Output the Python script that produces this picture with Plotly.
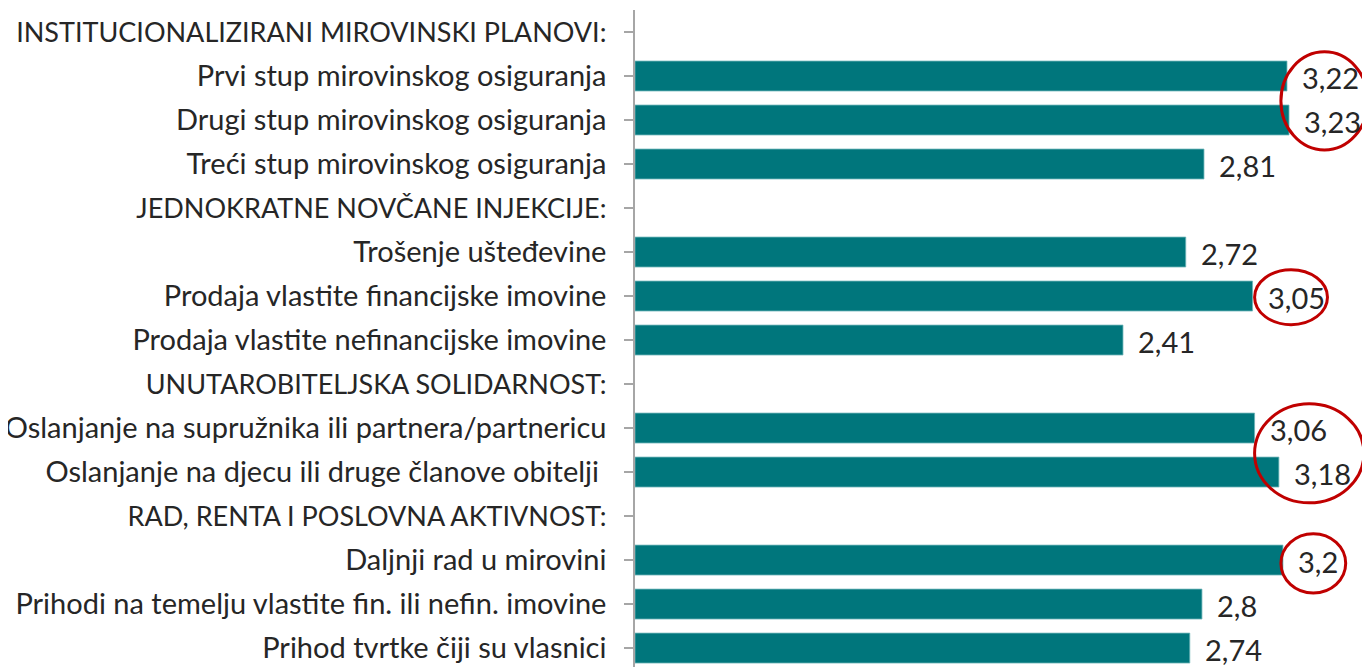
import plotly.graph_objects as go

# categories, top to bottom (group headers have no value)
categories = [
    "INSTITUCIONALIZIRANI MIROVINSKI PLANOVI:",
    "Prvi stup mirovinskog osiguranja",
    "Drugi stup mirovinskog osiguranja",
    "Treći stup mirovinskog osiguranja",
    "JEDNOKRATNE NOVČANE INJEKCIJE:",
    "Trošenje ušteđevine",
    "Prodaja vlastite financijske imovine",
    "Prodaja vlastite nefinancijske imovine",
    "UNUTAROBITELJSKA SOLIDARNOST:",
    "Oslanjanje na supružnika ili partnera/partnericu",
    "Oslanjanje na djecu ili druge članove obitelji ",
    "RAD, RENTA I POSLOVNA AKTIVNOST:",
    "Daljnji rad u mirovini",
    "Prihodi na temelju vlastite fin. ili nefin. imovine",
    "Prihod tvrtke čiji su vlasnici",
]
values = [None, 3.22, 3.23, 2.81, None, 2.72, 3.05, 2.41,
          None, 3.06, 3.18, None, 3.2, 2.8, 2.74]

labels = ["" if v is None else str(v).replace(".", ",") for v in values]
idx = list(range(len(categories)))

# group headers (no value) get a slightly smaller font so caps match widths
ticktext = [
    f"<span style='font-size:27px'>{c}</span>" if v is None else c
    for c, v in zip(categories, values)
]

BAR = "#00767C"
TXT = "#262626"
FONT = "Lato"

fig = go.Figure()
fig.add_trace(go.Bar(
    y=idx,
    x=values,
    orientation="h",
    marker=dict(color=BAR, line=dict(color="#6FB5B9", width=0.8)),
    width=0.68,
    hoverinfo="skip",
))

# value labels right of the bars
for i, v, t in zip(idx, values, labels):
    if v is None:
        continue
    fig.add_annotation(
        x=v, y=i, xref="x", yref="y", text=t, showarrow=False,
        xanchor="left", yanchor="middle", xshift=13, yshift=-1,
        font=dict(family=FONT, size=29, color=TXT),
    )

# red highlight ellipses (data coordinates: x value, y category index)
highlights = [
    (3.19, 3.62, 0.45, 2.68),
    (3.06, 3.42, 5.40, 6.65),
    (3.06, 3.60, 8.45, 10.70),
    (3.19, 3.51, 11.40, 12.75),
]
for x0, x1, y0, y1 in highlights:
    fig.add_shape(type="circle", xref="x", yref="y",
                  x0=x0, x1=x1, y0=y0, y1=y1,
                  line=dict(color="#C00000", width=3))

# page body has an 8px margin, so the figure is sized to end at the window edge
fig.update_layout(
    width=1362, height=659,
    margin=dict(l=627, r=0, t=2, b=0, autoexpand=False),
    plot_bgcolor="white", paper_bgcolor="white",
    showlegend=False,
    bargap=0.32,
    font=dict(family=FONT, color=TXT),
)
fig.update_xaxes(range=[0, 3.63], visible=False, showgrid=False, zeroline=False)
fig.update_yaxes(
    range=[14.43, -0.5],
    tickmode="array", tickvals=idx, ticktext=ticktext,
    showline=True, linecolor="#A6A6A6", linewidth=1.5,
    ticks="outside", ticklen=9, tickcolor="#A6A6A6", tickwidth=1.5,
    showgrid=False, zeroline=False,
    ticklabelstandoff=12,
    tickfont=dict(family=FONT, size=29, color=TXT),
)

fig.write_html("out.html")
